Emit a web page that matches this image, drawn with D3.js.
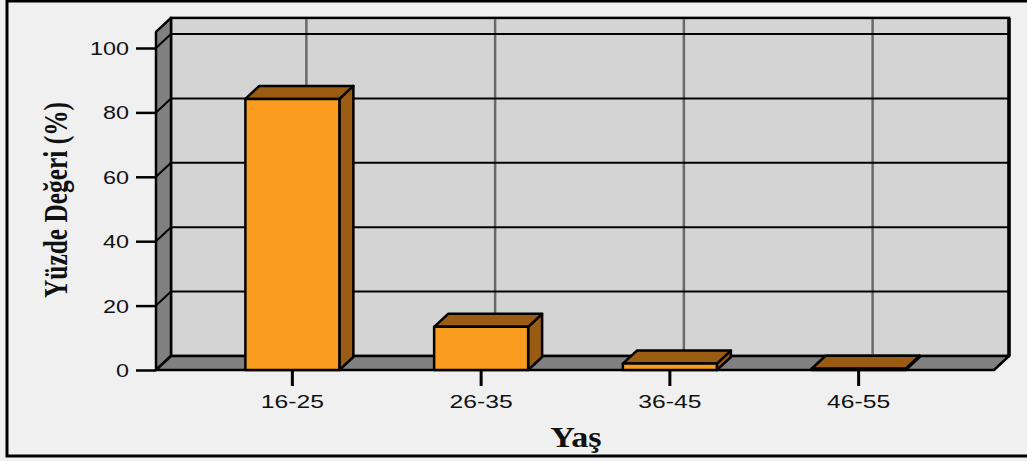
<!doctype html>
<html>
  <head>
    <meta charset="utf-8">
    <title>Yaş</title>
    <style>
      body { margin: 0; background: #f0f0f0; }
      svg { display: block; }
      .tick text { font-family: "Liberation Sans", Arial, sans-serif; fill: #111; }
      .title { font-family: "Liberation Serif", "Times New Roman", serif; font-weight: bold; fill: #111; }
    </style>
  </head>
  <body>
    <div id="chart"></div>

    <script src="https://cdn.jsdelivr.net/npm/d3@7"></script>

    <script>
      (function() {
        var categories = ['16-25', '26-35', '36-45', '46-55'];
        var values = [84.2, 13.4, 2.0, 0.4];
        var yTicks = [0, 20, 40, 60, 80, 100];

        var width = 1027;
        var height = 461;
        var dx = 15, dy = -14;      // wall depth
        var bdx = 14, bdy = -13;    // bar depth

        var svg = d3.select('#chart')
          .append('svg')
          .attr('width', width)
          .attr('height', height);

        svg.append('rect')
          .attr('width', width).attr('height', height)
          .attr('fill', '#f0f0f0');

        // outer frame
        svg.append('rect')
          .attr('x', 7).attr('y', 1)
          .attr('width', 1040).attr('height', 455)
          .attr('fill', 'none')
          .attr('stroke', '#000')
          .attr('stroke-width', 3);

        var y = d3.scaleLinear().domain([0, 100]).range([370, 48]);
        var x = d3.scaleBand().domain(categories).range([198, 953]);

        var left = 156, right = 994;
        var yTop = y(105);
        var yBase = y(0);

        // back wall
        svg.append('rect')
          .attr('x', left + dx).attr('y', yTop + dy)
          .attr('width', right - left).attr('height', yBase - yTop)
          .attr('fill', '#d4d4d4')
          .attr('stroke', '#000')
          .attr('stroke-width', 2.5);

        // side wall
        svg.append('polygon')
          .attr('points', [[left, yTop], [left + dx, yTop + dy], [left + dx, yBase + dy], [left, yBase]].join(' '))
          .attr('fill', '#808080')
          .attr('stroke', '#000')
          .attr('stroke-width', 2.5)
          .attr('stroke-linejoin', 'round');

        // floor
        svg.append('polygon')
          .attr('points', [[left, yBase], [left + dx, yBase + dy], [right + dx, yBase + dy], [right, yBase]].join(' '))
          .attr('fill', '#808080')
          .attr('stroke', '#000')
          .attr('stroke-width', 2.5)
          .attr('stroke-linejoin', 'round');

        // vertical gridlines on back wall
        svg.append('g').selectAll('line')
          .data(categories)
          .enter().append('line')
          .attr('x1', function(d) { return x(d) + x.bandwidth() / 2 + bdx; })
          .attr('x2', function(d) { return x(d) + x.bandwidth() / 2 + bdx; })
          .attr('y1', yTop + dy + 1)
          .attr('y2', yBase + dy - 1)
          .attr('stroke', '#6a6a6a')
          .attr('stroke-width', 2.5);

        // horizontal gridlines (side + back)
        svg.append('g').selectAll('polyline')
          .data(yTicks.filter(function(d) { return d > 0; }))
          .enter().append('polyline')
          .attr('points', function(d) {
            return [[left, y(d)], [left + dx, y(d) + dy], [right + dx, y(d) + dy]].join(' ');
          })
          .attr('fill', 'none')
          .attr('stroke', '#000')
          .attr('stroke-width', 2);

        // right edge of back wall
        svg.append('line')
          .attr('x1', right + dx).attr('x2', right + dx)
          .attr('y1', yTop + dy).attr('y2', yBase + dy)
          .attr('stroke', '#000')
          .attr('stroke-width', 3.5);

        // bars
        var bw = 94;
        var bars = svg.append('g').selectAll('g')
          .data(categories)
          .enter().append('g')
          .attr('stroke', '#000')
          .attr('stroke-width', 2.5)
          .attr('stroke-linejoin', 'round');

        bars.append('polygon')
          .attr('points', function(d, i) {
            var x0 = x(d) + x.bandwidth() / 2 - bw / 2, x1 = x0 + bw, yt = y(values[i]);
            return [[x1, yt], [x1 + bdx, yt + bdy], [x1 + bdx, yBase + bdy], [x1, yBase]].join(' ');
          })
          .attr('fill', '#9a5b13');

        bars.append('polygon')
          .attr('points', function(d, i) {
            var x0 = x(d) + x.bandwidth() / 2 - bw / 2, x1 = x0 + bw, yt = y(values[i]);
            return [[x0, yt], [x0 + bdx, yt + bdy], [x1 + bdx, yt + bdy], [x1, yt]].join(' ');
          })
          .attr('fill', '#9a5b13');

        bars.append('rect')
          .attr('x', function(d) { return x(d) + x.bandwidth() / 2 - bw / 2; })
          .attr('y', function(d, i) { return y(values[i]); })
          .attr('width', bw)
          .attr('height', function(d, i) { return yBase - y(values[i]); })
          .attr('fill', '#f99c1f');

        // y axis
        var yAxis = svg.append('g')
          .attr('transform', 'translate(' + left + ',0)')
          .call(d3.axisLeft(y).tickValues(yTicks).tickSize(20));
        yAxis.select('.domain').remove();
        yAxis.selectAll('.tick line').attr('stroke', '#000').attr('stroke-width', 2.5);
        yAxis.selectAll('.tick text')
          .attr('x', 0)
          .attr('dy', '0.36em')
          .attr('font-size', 18)
          .attr('transform', 'translate(-27,0) scale(1.3,1)');

        // x axis
        var xAxis = svg.append('g')
          .attr('transform', 'translate(0,' + yBase + ')')
          .call(d3.axisBottom(x).tickSize(16));
        xAxis.select('.domain').remove();
        xAxis.selectAll('.tick line').attr('stroke', '#000').attr('stroke-width', 3);
        xAxis.selectAll('.tick text')
          .attr('y', 25)
          .attr('dy', '0.71em')
          .attr('font-size', 19)
          .attr('transform', 'scale(1.3,1)');

        // axis titles
        svg.append('text')
          .attr('class', 'title')
          .attr('transform', 'translate(67,200) rotate(-90) scale(0.77,1)')
          .attr('text-anchor', 'middle')
          .attr('font-size', 33)
          .text('Yüzde Değeri (%)');

        svg.append('text')
          .attr('class', 'title')
          .attr('transform', 'translate(576,447) scale(1.14,1)')
          .attr('text-anchor', 'middle')
          .attr('font-size', 30)
          .text('Yaş');
      })();
    </script>
  </body>
</html>
